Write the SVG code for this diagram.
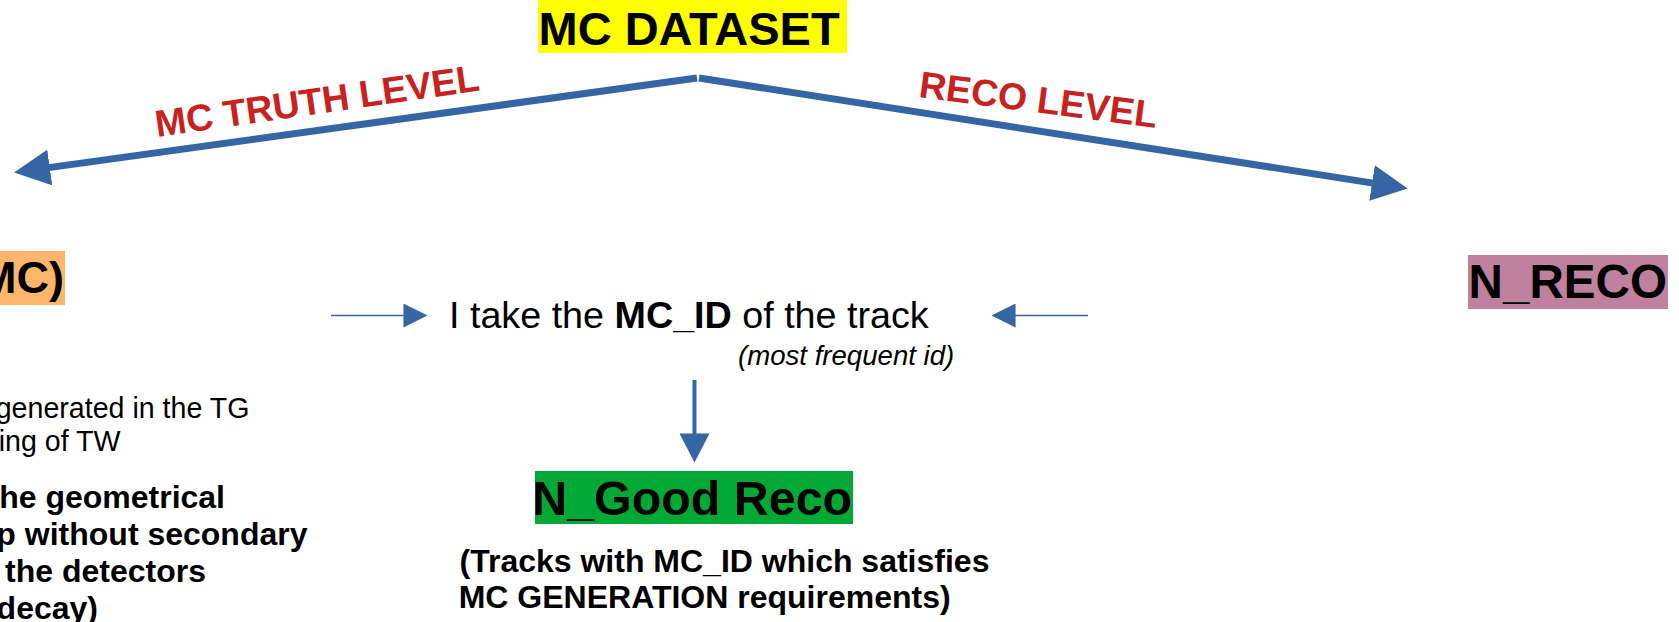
<svg xmlns="http://www.w3.org/2000/svg" width="1679" height="622" viewBox="0 0 1679 622">
<style>
  text { font-family: "Liberation Sans", Arial, sans-serif; fill: #000; }
  .b { font-weight: bold; }
  .lvl { font-weight: bold; fill: #c9211e; font-size: 37.5px; }
  .big { stroke: #3465a4; stroke-width: 7; fill: none; }
  .thin { stroke: #3465a4; stroke-width: 1.6; fill: none; }
  .mid { stroke: #3465a4; stroke-width: 4; fill: none; }
</style>
<defs>
  <marker id="hBig" markerUnits="userSpaceOnUse" markerWidth="36" markerHeight="36" viewBox="0 0 34 34" refX="1" refY="17" orient="auto">
    <path d="M0,0 L34,17 L0,34 Z" fill="#3465a4"/>
  </marker>
  <marker id="hSmall" markerUnits="userSpaceOnUse" markerWidth="24" markerHeight="24" viewBox="0 0 22 22" refX="0.5" refY="11" orient="auto">
    <path d="M0,0 L22,11 L0,22 Z" fill="#3465a4"/>
  </marker>
  <marker id="hDown" markerUnits="userSpaceOnUse" markerWidth="30" markerHeight="30" viewBox="0 0 28 29" refX="0.5" refY="14.5" orient="auto">
    <path d="M0,0 L28,14.5 L0,29 Z" fill="#3465a4"/>
  </marker>
</defs>

<g id="connectors">
  <line class="big" x1="697" y1="78" x2="48.7" y2="167.6" marker-end="url(#hBig)"/>
  <line class="big" x1="699" y1="78" x2="1373.1" y2="183.1" marker-end="url(#hBig)"/>
  <line class="thin" x1="331" y1="315.5" x2="404" y2="315.5" marker-end="url(#hSmall)"/>
  <line class="thin" x1="1088" y1="315.5" x2="1015" y2="315.5" marker-end="url(#hSmall)"/>
  <line class="mid" x1="694.5" y1="380" x2="694.5" y2="434" marker-end="url(#hDown)"/>
  <text class="lvl" x="157" y="137" transform="rotate(-8.2 157 137)">MC TRUTH LEVEL</text>
  <text class="lvl" x="918" y="97" transform="rotate(7.4 918 97)">RECO LEVEL</text>
</g>

<g id="mc-dataset">
  <rect x="538" y="0" width="309" height="53" fill="#ffff00"/>
  <text class="b" x="538.5" y="44.5" font-size="47">MC DATASET</text>
</g>

<g id="n-mc">
  <rect x="0" y="251" width="65" height="54" fill="#ffb66c"/>
  <text class="b" x="64" y="293" font-size="45" text-anchor="end">MC)</text>
</g>

<g id="mc-notes">
  <text x="249.5" y="417.7" font-size="28.6" text-anchor="end">generated in the TG</text>
  <text x="120.5" y="450.7" font-size="28.6" text-anchor="end">ing of TW</text>
  <text class="b" x="225" y="508" font-size="32" text-anchor="end">he geometrical</text>
  <text class="b" x="307.5" y="545" font-size="32" text-anchor="end">p without secondary</text>
  <text class="b" x="206" y="582" font-size="32" text-anchor="end">the detectors</text>
  <text class="b" x="98" y="619" font-size="32" text-anchor="end">decay)</text>
</g>

<g id="mc-id">
  <text x="449" y="327.7" font-size="37.7">I take the <tspan class="b">MC_ID</tspan> of the track</text>
  <text x="738" y="365" font-size="27.6" font-style="italic">(most frequent id)</text>
</g>

<g id="n-reco">
  <rect x="1468" y="255" width="200" height="54" fill="#bf819e"/>
  <text class="b" x="1468.6" y="298" font-size="47.6">N_RECO</text>
</g>

<g id="n-good-reco">
  <rect x="535" y="471" width="318" height="53" fill="#00a933"/>
  <text class="b" x="532.2" y="515" font-size="48.4">N_Good Reco</text>
  <text class="b" x="459.5" y="571.7" font-size="32">(Tracks with MC_ID which satisfies</text>
  <text class="b" x="458.7" y="608" font-size="32">MC GENERATION requirements)</text>
</g>
</svg>
